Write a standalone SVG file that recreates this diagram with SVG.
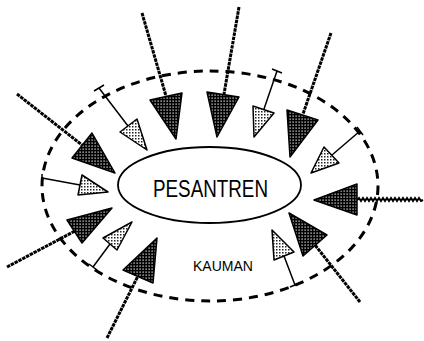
<svg xmlns="http://www.w3.org/2000/svg" width="424" height="341" viewBox="0 0 424 341">
<defs>
<pattern id="pd" width="3" height="3" patternUnits="userSpaceOnUse"><rect width="3" height="3" fill="#000"/><rect x="1.5" y="1.5" width="1.2" height="1.2" fill="#fff"/></pattern>
<pattern id="pl" width="3" height="3" patternUnits="userSpaceOnUse"><rect width="3" height="3" fill="#fff"/><rect x="0" y="0" width="1.5" height="1.5" fill="#222"/></pattern>
<style>
.dk{fill:url(#pd);stroke:#000;stroke-width:1.5;stroke-linejoin:round}
.lt{fill:url(#pl);stroke:#000;stroke-width:1.5;stroke-linejoin:round}
.tk{fill:none;stroke:#000;stroke-width:3;stroke-dasharray:3.5 0.8}
.tn{fill:none;stroke:#000;stroke-width:1.5}
.lbl{font-family:"Liberation Sans",Arial,sans-serif;fill:#000}
</style>
</defs>
<rect width="424" height="341" fill="#fff"/>
<g id="kauman">
<ellipse cx="210" cy="186" rx="168" ry="115" fill="none" stroke="#000" stroke-width="3" stroke-dasharray="9 7"/>
<text class="lbl" x="193" y="271" font-size="14" textLength="60" lengthAdjust="spacingAndGlyphs">KAUMAN</text>
</g>
<g id="pesantren">
<ellipse cx="209.5" cy="185" rx="91.5" ry="38" fill="#fff" stroke="#000" stroke-width="1.8"/>
<text class="lbl" x="153" y="197" font-size="23" textLength="115" lengthAdjust="spacingAndGlyphs">PESANTREN</text>
</g>
<g id="connectors">
<path class="tk" d="M142,13 L166,96"/><polygon class="dk" points="150,100 182,93 176,139"/>
<path class="tk" d="M239,7 L224,94"/><polygon class="dk" points="207,92 239,97 217,137"/>
<path class="tk" d="M331,33 L303,114"/><polygon class="dk" points="287,110 318,120 290,157"/>
<path fill="none" stroke="#000" stroke-width="2" d="M357,200 l2,-2 l2,3 l2,-3 l2,3 l2,-3 l2,3 l2,-3 l2,3 l2,-3 l2,3 l2,-3 l2,3 l2,-3 l2,3 l2,-3 l2,3 l2,-3 l2,3 l2,-3 l2,3 l2,-3 l2,3 l2,-3 l2,3 l2,-3 l2,3 l2,-3 l2,3 l2,-3 l2,3 l2,-3 l2,3 l2,-1"/><polygon class="dk" points="357,184 357,215 314,200"/>
<path class="tk" d="M360,302 L315,245"/><polygon class="dk" points="327,235 303,256 289,213"/>
<path class="tk" d="M17,94 L82,145"/><polygon class="dk" points="92,133 72,158 115,173"/>
<path class="tk" d="M7,267 L75,231"/><polygon class="dk" points="67,220 82,243 112,208"/>
<path class="tk" d="M107,338 L138,276"/><polygon class="dk" points="123,270 153,283 157,238"/>
<path class="tn" d="M99,88 L128,126 M94,91 L104,85"/><polygon class="lt" points="120,132 137,119 147,150"/>
<path class="tn" d="M277,71 L264,109 M272,69 L282,73"/><polygon class="lt" points="253,106 274,113 254,137"/>
<path class="tn" d="M360,131 L332,155 M357,127 L363,135"/><polygon class="lt" points="324,147 339,163 311,173"/>
<path class="tn" d="M295,285 L284,256 M290,287 L300,283"/><polygon class="lt" points="294,252 274,260 272,230"/>
<path class="tn" d="M42,178 L80,185 M42,174 L42,184"/><polygon class="lt" points="82,175 78,195 108,192"/>
<path class="tn" d="M93,267 L110,244 M89,264 L97,270"/><polygon class="lt" points="103,238 117,250 132,222"/>
</g>
</svg>
